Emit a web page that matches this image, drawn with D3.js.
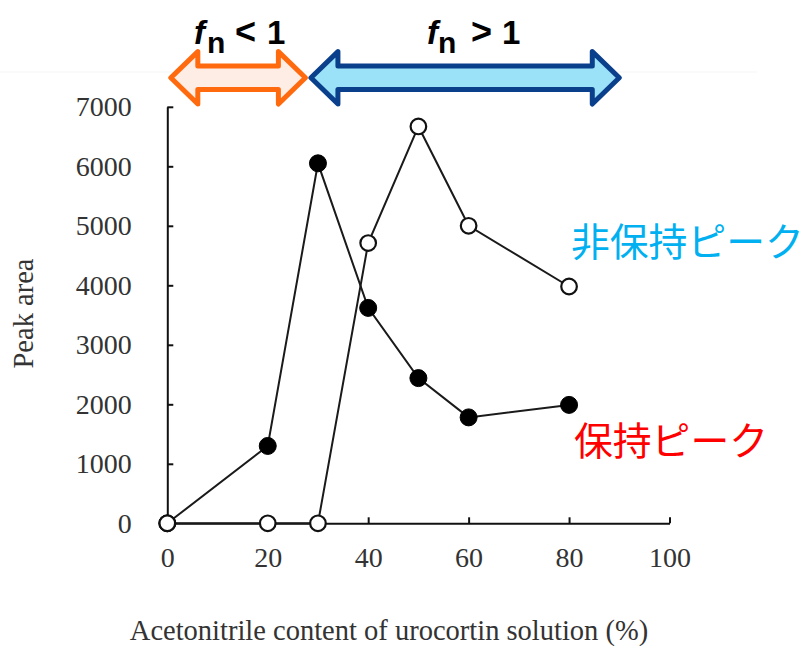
<!DOCTYPE html>
<html>
<head>
<meta charset="utf-8">
<script src="https://cdn.jsdelivr.net/npm/d3@7/dist/d3.min.js"></script>
<style>
  html, body { margin: 0; padding: 0; background: #fff; }
  svg { display: block; }
</style>
</head>
<body>
<svg id="chart" width="808" height="646"></svg>
<script>
// Acetonitrile content (%) of the urocortin solution
const acetonitrile = [0, 20, 30, 40, 50, 60, 80];
// Peak area of the retained peak (filled markers)
const retainedPeak = [0, 1300, 6050, 3620, 2440, 1780, 1990];
// Peak area of the non-retained peak (open markers)
const nonRetainedPeak = [0, 0, 0, 4710, 6670, 5000, 3980];

const xTicks = [0, 20, 40, 60, 80, 100];
const yTicks = [0, 1000, 2000, 3000, 4000, 5000, 6000, 7000];

// Ranges of acetonitrile content labelled by the double arrows
const fnZones = [
  { rel: "<", from: 0.7, to: 27.5 },
  { rel: ">", from: 28.6, to: 90 }
];

const svg = d3.select("#chart");

const x = d3.scaleLinear().domain([0, 100]).range([167.3, 669.5]);
const y = d3.scaleLinear().domain([0, 7000]).range([523.3, 106.8]);

const serif = "'Liberation Serif', 'Times New Roman', serif";

// faint slide rule behind the arrows
svg.append("line")
  .attr("x1", 0).attr("x2", 757).attr("y1", 72).attr("y2", 72)
  .attr("stroke", "#f8f8f8").attr("stroke-width", 1.5);

// axes with inward ticks
const xAxis = svg.append("g")
  .attr("transform", `translate(0,${y(0)})`)
  .call(d3.axisBottom(x).tickValues(xTicks).tickFormat(d3.format("d"))
    .tickSizeInner(-6).tickSizeOuter(0).tickPadding(23.5));
const yAxis = svg.append("g")
  .attr("transform", `translate(${x(0)},0)`)
  .call(d3.axisLeft(y).tickValues(yTicks).tickFormat(d3.format("d"))
    .tickSizeInner(-6).tickSizeOuter(0).tickPadding(35.5));

[xAxis, yAxis].forEach(g => {
  g.select(".domain").attr("stroke", "#111").attr("stroke-width", 2);
  g.selectAll(".tick line").attr("stroke", "#111").attr("stroke-width", 2);
  g.selectAll(".tick text")
    .attr("font-family", serif)
    .attr("font-size", 28)
    .attr("fill", "#333");
});

// axis titles
svg.append("text")
  .attr("x", 389).attr("y", 640)
  .attr("text-anchor", "middle")
  .attr("font-family", serif)
  .attr("font-size", 28.5)
  .attr("fill", "#333")
  .text("Acetonitrile content of urocortin solution (%)");

svg.append("text")
  .attr("transform", "translate(33,313.5) rotate(-90)")
  .attr("text-anchor", "middle")
  .attr("font-family", serif)
  .attr("font-size", 28.5)
  .attr("fill", "#333")
  .text("Peak area");

// series lines and markers
const line = d3.line().x(d => x(d[0])).y(d => y(d[1]));
const retainedPts = acetonitrile.map((a, i) => [a, retainedPeak[i]]);
const nonRetainedPts = acetonitrile.map((a, i) => [a, nonRetainedPeak[i]]);

[retainedPts, nonRetainedPts].forEach(pts => {
  svg.append("path")
    .datum(pts)
    .attr("d", line)
    .attr("fill", "none")
    .attr("stroke", "#1a1a1a")
    .attr("stroke-width", 2);
});

svg.append("g").selectAll("circle")
  .data(retainedPts)
  .join("circle")
  .attr("cx", d => x(d[0])).attr("cy", d => y(d[1]))
  .attr("r", 8.5)
  .attr("fill", "#000").attr("stroke", "#000").attr("stroke-width", 1);

svg.append("g").selectAll("circle")
  .data(nonRetainedPts)
  .join("circle")
  .attr("cx", d => x(d[0])).attr("cy", d => y(d[1]))
  .attr("r", 7.8)
  .attr("fill", "#fff").attr("stroke", "#111").attr("stroke-width", 2.2);

// series labels
svg.append("text")
  .attr("x", 571).attr("y", 256)
  .attr("font-family", "'Noto Sans CJK JP', sans-serif")
  .attr("font-size", 38.8)
  .attr("fill", "#00B0F0")
  .text("非保持ピーク");

svg.append("text")
  .attr("x", 574).attr("y", 455)
  .attr("font-family", "'Noto Sans CJK JP', sans-serif")
  .attr("font-size", 38.8)
  .attr("fill", "#FF0000")
  .text("保持ピーク");

// double-headed range arrows
function doubleArrow(x0, x1, cy, headLen, headHalf, shaftHalf) {
  return [
    [x0, cy],
    [x0 + headLen, cy - headHalf],
    [x0 + headLen, cy - shaftHalf],
    [x1 - headLen, cy - shaftHalf],
    [x1 - headLen, cy - headHalf],
    [x1, cy],
    [x1 - headLen, cy + headHalf],
    [x1 - headLen, cy + shaftHalf],
    [x0 + headLen, cy + shaftHalf],
    [x0 + headLen, cy + headHalf]
  ];
}

const arrowStyles = {
  "<": { fill: "#FDEDE4", stroke: "#FF6A0E" },
  ">": { fill: "#9BE1F7", stroke: "#0A3F8C" }
};

fnZones.forEach(z => {
  const pts = doubleArrow(x(z.from), x(z.to), 77.8, 27, 26.2, 11.8);
  svg.append("path")
    .attr("d", "M" + pts.map(p => p.join(",")).join("L") + "Z")
    .attr("fill", arrowStyles[z.rel].fill)
    .attr("stroke", arrowStyles[z.rel].stroke)
    .attr("stroke-width", 5)
    .attr("stroke-linejoin", "round");
});

// f_n labels above the arrows (each piece placed on its own)
const fnLabelX = {
  "<": { f: 194, n: 207, rel: 235, one: 267 },
  ">": { f: 427, n: 438, rel: 471, one: 502 }
};
fnZones.forEach(z => {
  const p = fnLabelX[z.rel];
  const t = svg.append("text")
    .attr("y", 44)
    .attr("font-family", "'Liberation Sans', Arial, sans-serif")
    .attr("font-weight", "bold")
    .attr("font-size", 33)
    .attr("fill", "#000");
  t.append("tspan").attr("x", p.f).attr("font-style", "italic").text("f");
  t.append("tspan").attr("x", p.n).attr("font-size", 30).attr("dy", 9).text("n");
  t.append("tspan").attr("x", p.rel).attr("dy", -9).attr("font-size", 36).text(z.rel);
  t.append("tspan").attr("x", p.one).text("1");
});
</script>
</body>
</html>
